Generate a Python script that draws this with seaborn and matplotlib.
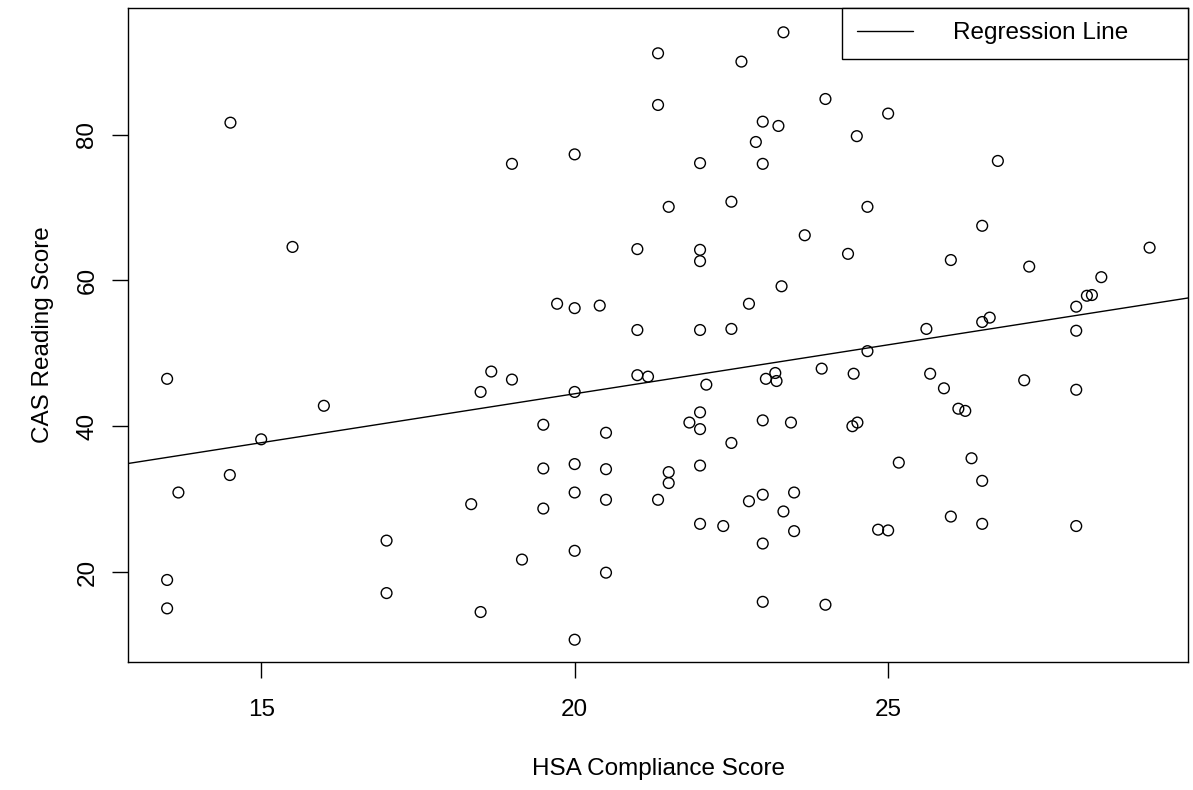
import matplotlib
matplotlib.use("Agg")
import matplotlib.pyplot as plt
import seaborn as sns
import pandas as pd


# HSA compliance score vs CAS reading score
hsa_score = [
    14.51, 15.5, 23.33, 21.33, 22.66, 24.0, 21.33, 23.0, 23.25, 22.89,
    20.0, 19.0, 22.0, 23.0, 21.5, 22.5, 23.67, 21.0, 22.0, 22.0,
    23.3, 19.72, 20.0, 20.4, 22.78, 21.0, 22.0, 22.5, 28.0, 25.0,
    24.5, 26.75, 24.67, 26.5, 24.36, 26.0, 27.25, 29.17, 28.4, 28.17,
    28.25, 28.0, 26.62, 26.5, 25.61, 28.0, 13.5, 16.0, 15.0, 14.5,
    13.68, 17.0, 13.5, 17.0, 13.5, 18.35, 18.5, 18.5,
    18.67, 19.0, 20.0, 21.0, 21.17, 22.1, 23.05, 23.2, 23.22, 23.94,
    19.5, 20.5, 22.0, 21.83, 22.0, 22.5, 23.0, 23.45, 19.5, 20.0,
    20.5, 21.5, 21.5, 22.0, 19.5, 20.0, 20.5, 21.33, 22.78, 23.0,
    23.5, 23.33, 23.5, 22.0, 22.37, 23.0, 19.16, 20.0, 20.5, 23.0,
    24.0, 20.0,
    24.67, 24.45, 25.67, 25.89, 27.17, 28.0, 26.12, 26.23, 24.43, 24.51,
    25.17, 26.33, 26.5, 24.84, 25.0, 26.0, 26.5, 28.0,
]
cas_reading = [
    81.65, 64.6, 94.05, 91.17, 90.03, 84.9, 84.08, 81.79, 81.2, 79.0,
    77.3, 76.0, 76.1, 76.0, 70.1, 70.8, 66.2, 64.3, 64.2, 62.65,
    59.2, 56.8, 56.2, 56.55, 56.8, 53.2, 53.2, 53.35, 91.44, 82.9,
    79.8, 76.4, 70.1, 67.5, 63.65, 62.8, 61.9, 64.5, 60.45, 57.9,
    58.0, 56.4, 54.9, 54.3, 53.35, 53.1, 46.5, 42.8, 38.2, 33.3,
    30.9, 24.3, 18.9, 17.1, 15.0, 29.3, 44.7, 14.5,
    47.5, 46.4, 44.7, 47.0, 46.8, 45.7, 46.5, 47.3, 46.2, 47.9,
    40.2, 39.1, 41.9, 40.5, 39.6, 37.7, 40.8, 40.5, 34.2, 34.8,
    34.1, 33.7, 32.2, 34.6, 28.7, 30.9, 29.9, 29.9, 29.7, 30.6,
    30.9, 28.3, 25.6, 26.6, 26.3, 23.9, 21.7, 22.9, 19.9, 15.9,
    15.5, 10.7,
    50.3, 47.2, 47.2, 45.2, 46.3, 45.0, 42.4, 42.1, 40.0, 40.5,
    35.0, 35.6, 32.5, 25.8, 25.7, 27.6, 26.6, 26.3,
]

x_ticks = [15, 20, 25]
y_ticks = [20, 40, 60, 80]

df = pd.DataFrame({"hsa": hsa_score, "cas": cas_reading})

sns.set_style("ticks")
plt.rcParams["font.family"] = ["Liberation Sans", "DejaVu Sans"]
plt.rcParams["text.color"] = "black"
plt.rcParams["axes.labelcolor"] = "black"
plt.rcParams["xtick.color"] = "black"
plt.rcParams["ytick.color"] = "black"

fig = plt.figure(figsize=(11.93, 7.9), dpi=100)
ax = fig.add_axes([0.1075, 0.162, 0.8887, 0.828])

sns.scatterplot(data=df, x="hsa", y="cas", ax=ax, marker="o", s=60,
                facecolor="none", edgecolor="black", linewidth=1.0)

ax.set_xlim(12.88, 29.79)
ax.set_ylim(7.64, 97.4)

# regression line across the full axis width, like R's abline
sns.regplot(data=df, x="hsa", y="cas", ax=ax, scatter=False, ci=None,
            truncate=False, color="black", line_kws={"linewidth": 1.0},
            label="Regression Line")
ax.set_xlim(12.88, 29.79)

ax.set_xticks(x_ticks)
ax.set_yticks(y_ticks)
ax.tick_params(axis="both", direction="out", length=11.5, width=1.0,
               labelsize=17.5, color="black", labelcolor="black")
ax.tick_params(axis="x", pad=15)
ax.tick_params(axis="y", pad=10)
for lab in ax.get_yticklabels():
    lab.set_rotation(90)
    lab.set_va("center")

for sp in ax.spines.values():
    sp.set_visible(True)
    sp.set_linewidth(1.0)
    sp.set_color("black")

ax.set_xlabel("HSA Compliance Score", fontsize=17.5, labelpad=27, color="black")
ax.set_ylabel("CAS Reading Score", fontsize=17.5, labelpad=16, color="black")

leg = ax.legend(loc="upper right", bbox_to_anchor=(0.6735, 0.0, 0.3265, 1.0),
                mode="expand", borderaxespad=0, fontsize=17.5, fancybox=False,
                framealpha=1, edgecolor="black", handlelength=2.3,
                handletextpad=1.65, borderpad=0.6)
leg.get_frame().set_linewidth(1.0)
for t in leg.get_texts():
    t.set_color("black")

fig.savefig("out.png", dpi=100)
